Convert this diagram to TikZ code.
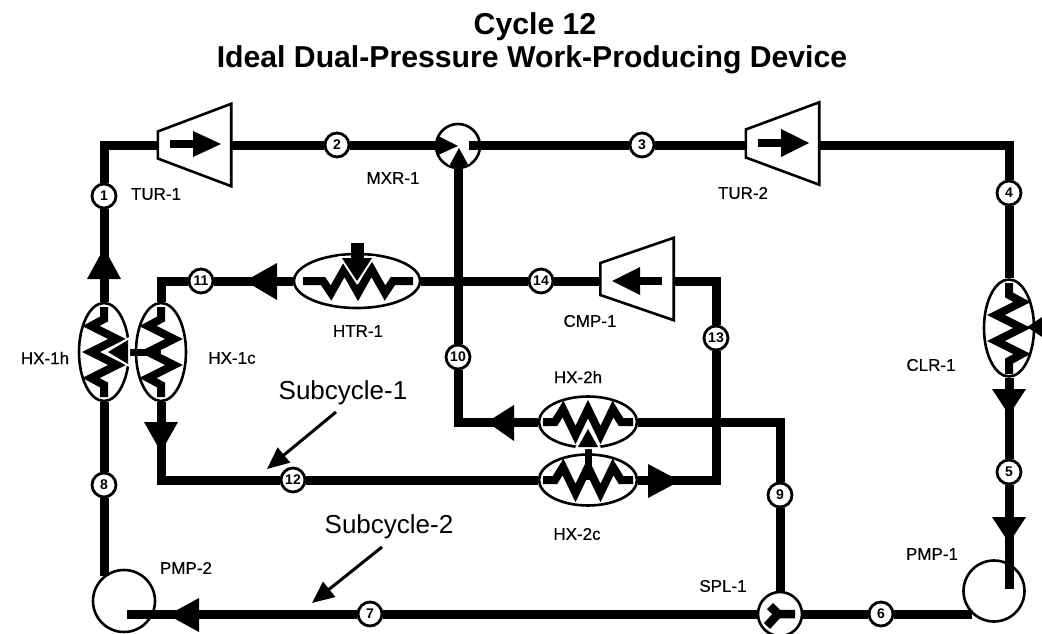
\documentclass[tikz,border=0pt]{standalone}
\usepackage{fontspec}
\setmainfont{Liberation Sans}
\newfontfamily\heavy[FakeBold=0.35]{Liberation Sans}
\usetikzlibrary{shapes.geometric,arrows.meta}
\tikzset{
  pipe/.style={line width=9pt,line join=miter,line cap=butt},
  tag/.style={circle,draw,fill=white,line width=2.8pt,minimum size=24pt,inner sep=0pt,font=\bfseries\fontsize{14}{14}\selectfont},
  oval/.style={ellipse,draw,fill=white,line width=2.6pt,inner sep=0pt},
  hxh/.style={oval,minimum width=98pt,minimum height=51pt},
  hxv/.style={oval,minimum width=50pt,minimum height=98pt},
  ball/.style={circle,draw,fill=white,line width=2.6pt,inner sep=0pt},
  zig/.style={line width=8pt,line join=miter,line cap=butt,miter limit=6},
  head/.style={fill=black,draw=none},
  halo/.style={fill=black,draw=none,preaction={draw=white,line width=4pt,line join=miter}},
  stem/.style={line width=7.5pt},
  lab/.style={font=\heavy\fontsize{17}{17}\selectfont,inner sep=0pt},
  sub/.style={font=\fontsize{26}{26}\selectfont,inner sep=0pt},
  ttl/.style={font=\bfseries\fontsize{30.2}{30.2}\selectfont,inner sep=0pt},
  shell/.style={draw,fill=white,line width=2.6pt,line join=miter},
  box/.style={rectangle,inner sep=0pt,draw=none},
  pointer/.style={line width=3pt,-{Triangle[length=22pt,width=19pt]}}
}
\newcommand\ZigH[2]{\draw[zig,shift={(#1,#2)}] (-45,0)--(-33,0)--(-25,-13)--(-12.5,13)--(0,-13)--(12.5,13)--(25,-13)--(33,0)--(45,0);}
\newcommand\ZigV[2]{\draw[zig,shift={(#1,#2)}] (0,-45)--(0,-33)--(-13,-26)--(13,-13)--(-13,0)--(13,13)--(-13,26)--(0,33)--(0,45);}
\newcommand\Trap[4]{\node[box,minimum width=73pt,minimum height=82pt] (#1) at (#2,#3) {};
  \draw[shell] (#1.north east)--(#1.south east)--([yshift=-#4pt]#1.west)--([yshift=#4pt]#1.west)--cycle;}
\begin{document}
\begin{tikzpicture}[x=1pt,y=-1pt]
\useasboundingbox (0,0) rectangle (1042,634);
\fill[white] (0,0) rectangle (1042,634);
% titles
\node[ttl] (t1) at (535,27) {Cycle 12};
\node[ttl] (t2) at (532,60) {Ideal Dual-Pressure Work-Producing Device};
% stream tags
\node[tag] (c1) at (104,196) {1};
\node[tag] (c2) at (337,145) {2};
\node[tag] (c3) at (642,145) {3};
\node[tag] (c4) at (1009,193) {4};
\node[tag] (c5) at (1009,472) {5};
\node[tag] (c6) at (881,614) {6};
\node[tag] (c7) at (370,614) {7};
\node[tag] (c8) at (104,485) {8};
\node[tag] (c9) at (780,495) {9};
\node[tag] (c10) at (458,357) {10};
\node[tag] (c11) at (201,281) {11};
\node[tag] (c12) at (293,480) {12};
\node[tag] (c13) at (716,338) {13};
\node[tag] (c14) at (541,281) {14};
% units
\Trap{tur1}{194.5}{145}{13.5}
\Trap{tur2}{782.5}{143.5}{14}
\Trap{cmp1}{637}{279}{16}
\node[hxv] (hx1h) at (104,352) {};
\node[hxv] (hx1c) at (161,352) {};
\node[hxv,minimum height=97pt] (clr1) at (1009,328) {};
\node[oval,minimum width=126pt,minimum height=54pt] (htr1) at (357,281) {};
\node[hxh] (hx2h) at (588,422) {};
\node[hxh] (hx2c) at (588,480) {};
\node[ball,minimum size=44pt] (mxr1) at (458,146) {};
\node[ball,minimum size=62pt] (pmp2) at (124,601) {};
\node[ball,minimum size=61pt] (pmp1) at (994,591) {};
\coordinate (mxrout) at (469,145);
\coordinate (pmp1end) at (1009,589);
\coordinate (pmp2end) at (127,614);
\coordinate (splc) at (780,614);
% connectors
\draw[pipe] (hx1h.north) -- (c1);
\draw[pipe] (c1) |- (tur1.west |- c2);
\draw[pipe] (tur1.east |- c2) -- (c2);
\draw[pipe] (c2) -- (mxr1.west |- c2);
\draw[pipe] (mxrout) -- (c3);
\draw[pipe] (c3) -- (tur2.west |- c3);
\draw[pipe] (tur2.east |- c3) -| (c4);
\draw[pipe] (c4) -- (clr1.north);
\draw[pipe] (clr1.south) -- (c5);
\draw[pipe] (c5) -- (pmp1end);
\draw[pipe] (c6) -- (c6 -| pmp1.226);
\draw[pipe] (c6) -- (splc);
\draw[pipe] (splc) -- (c7);
\draw[pipe] (c7) -- (pmp2end);
\draw[pipe] (c8 |- pmp2.130) -- (c8);
\draw[pipe] (c8) -- (hx1h.south);
\draw[pipe] (splc) -- (c9);
\draw[pipe] (c9) |- (hx2h.east);
\draw[pipe] (hx2h.west) -| (c10);
\draw[pipe] (c10) -- (mxr1.south);
\draw[pipe] (cmp1.east |- c14) -| (c13);
\draw[pipe] (c13) |- (hx2c.east);
\draw[pipe] (hx2c.west) -- (c12);
\draw[pipe] (c12) -| (hx1c.south);
\draw[pipe] (cmp1.west |- c14) -- (c14);
\draw[pipe] (c14) -- (htr1.east);
\draw[pipe] (htr1.west) -- (c11);
\draw[pipe] (c11) -| (hx1c.north);
% splitter drawn over the pipes that meet it
\node[ball,minimum size=44pt] (spl1) at (splc) {};
% pipe arrowheads
\fill[head] (104,248)--(87,279)--(121,279)--cycle;
\fill[head] (245,281)--(277,263)--(277,300)--cycle;
\fill[head] (161,452)--(144,422)--(178,422)--cycle;
\fill[head] (487,422)--(514,405)--(514,441)--cycle;
\fill[head] (680,481)--(648,464)--(648,498)--cycle;
\fill[head] (1009,415)--(992,389)--(1026,389)--cycle;
\fill[head] (1009,543)--(992,517)--(1026,517)--cycle;
\fill[head] (168,615)--(199,598)--(199,632)--cycle;
% machine arrows
\draw[stem] (170,144)--(195,144);
\fill[head] (221,144)--(193,131)--(193,157)--cycle;
\draw[stem] (758,143)--(783,143);
\fill[head] (809,143)--(781,129)--(781,157)--cycle;
\draw[stem] (662,281)--(638,281);
\fill[head] (612,281)--(640,267)--(640,295)--cycle;
% mixer
\fill[head] (458,146)--(438,136)--(438,155)--cycle;
\draw[pipe] (430,145)--(440,145);
\begin{scope}
\clip (mxr1.center) circle (21pt);
\draw[halo] (459,148)--(447,170)--(471,170)--cycle;
\end{scope}
\draw[pipe] (469,145)--(480,145);
% splitter
\draw[line width=8.5pt,line join=miter] (770,606)--(778,614)--(795,614);
\draw[line width=8.5pt,line join=miter] (778,614)--(767,626);
% coils
\ZigV{104}{352}
\ZigV{161}{352}
\draw[zig,shift={(1009,328)}] (0,-45)--(0,-33)--(13,-26)--(-13,-13)--(13,0)--(-13,13)--(13,26)--(0,33)--(0,46);
\draw[zig,shift={(358,281)}] (-55,0)--(-35,0)--(-27,12)--(-13.5,-12)--(0,12)--(13.5,-12)--(27,12)--(35,0)--(55,0);
\ZigH{588}{422}
\ZigH{588}{480}
% heat arrows
\draw[line width=13pt] (357,243)--(357,262);
\draw[halo] (357,281)--(342,258)--(372,258)--cycle;
\draw[line width=13pt] (357,243)--(357,259);
\draw[line width=7pt] (125,352)--(161,352);
\draw[halo] (108,352)--(128,340)--(128,364)--cycle;
\draw[line width=7pt] (588,444)--(588,480);
\draw[halo] (588,429)--(578,447)--(598,447)--cycle;
\fill[head] (1027,327)--(1042,317)--(1042,337)--cycle;
% labels
\node[lab] (l1) at (156,194) {TUR-1};
\node[lab] (l2) at (393,178) {MXR-1};
\node[lab] (l3) at (743,193) {TUR-2};
\node[lab] (l4) at (931,365) {CLR-1};
\node[lab] (l5) at (590,321) {CMP-1};
\node[lab] (l6) at (358,331) {HTR-1};
\node[lab] (l7) at (232,358) {HX-1c};
\node[lab] (l8) at (45,358) {HX-1h};
\node[lab] (l9) at (578,377) {HX-2h};
\node[lab] (l10) at (577,534) {HX-2c};
\node[lab] (l11) at (186,568) {PMP-2};
\node[lab] (l12) at (723,586) {SPL-1};
\node[lab] (l13) at (932,554) {PMP-1};
\node[sub] (s1) at (343,393) {Subcycle-1};
\node[sub] (s2) at (389,527) {Subcycle-2};
\coordinate (s1from) at (336,412);
\coordinate (s1to) at (267,469);
\coordinate (s2from) at (382,547);
\coordinate (s2to) at (312,603);
\draw[pointer] (s1from) -- (s1to);
\draw[pointer] (s2from) -- (s2to);
\end{tikzpicture}
\end{document}
